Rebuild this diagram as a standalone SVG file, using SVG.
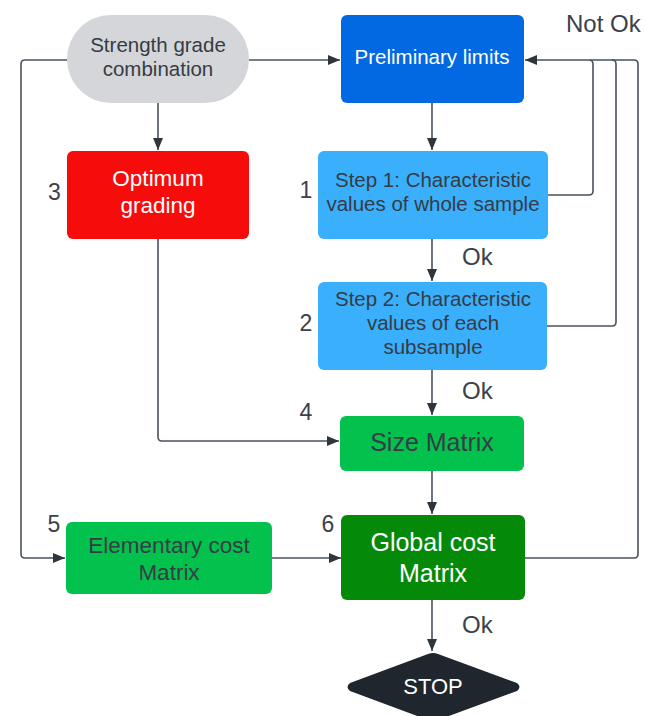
<svg xmlns="http://www.w3.org/2000/svg" width="646" height="716" viewBox="0 0 646 716">
<defs>
<marker id="ah" viewBox="0 0 12 10" refX="12" refY="5" markerWidth="12" markerHeight="10" markerUnits="userSpaceOnUse" orient="auto">
<path d="M0,0 L12,5 L0,10 Z" fill="#2f353d"/>
</marker>
<style>
text{font-family:"Liberation Sans",Arial,sans-serif;text-anchor:middle}
.c{fill:none;stroke:#4a525b;stroke-width:1.6;stroke-linejoin:round}
.a{marker-end:url(#ah)}
.dk{fill:#353c45}
.wt{fill:#ffffff}
.num{fill:#3a414a;font-size:23px}
.lbl{fill:#3a414a;font-size:24px;text-anchor:start}
</style>
</defs>
<rect width="646" height="716" fill="#ffffff"/>
<g id="connectors">
<path class="c a" d="M249,60 H340"/>
<path class="c a" d="M158,103 V150"/>
<path class="c a" d="M432,103 V150"/>
<path class="c a" d="M432,239 V281"/>
<path class="c a" d="M432,370 V415"/>
<path class="c a" d="M432,471 V514"/>
<path class="c a" d="M432,600 V651"/>
<path class="c a" d="M158,239 V437 Q158,441 162,441 H339"/>
<path class="c a" d="M67,60 H25 Q21,60 21,64 V554 Q21,558 25,558 H65"/>
<path class="c a" d="M272,558 H341"/>
<path class="c a" d="M548,195 H589 Q593,195 593,191 V64 Q593,60 589,60 H525"/>
<path class="c" d="M547,326 H612 Q616,326 616,322 V64 Q616,60 612,60 H590"/>
<path class="c" d="M525,558 H634 Q638,558 638,554 V64 Q638,60 634,60 H612"/>
</g>
<g id="strength">
<rect x="67" y="15" width="182" height="88" rx="44" fill="#d4d6d9"/>
<text class="dk" font-size="20.5" x="158" y="52">Strength grade</text>
<text class="dk" font-size="20.5" x="158" y="76">combination</text>
</g>
<g id="preliminary">
<rect x="341" y="15" width="183" height="88" rx="6" fill="#0369e2"/>
<text class="wt" font-size="20.5" x="432" y="64">Preliminary limits</text>
</g>
<g id="optimum">
<rect x="67" y="151" width="182" height="88" rx="6" fill="#f70c0c"/>
<text class="wt" font-size="22.5" x="158" y="186">Optimum</text>
<text class="wt" font-size="22.5" x="158" y="213">grading</text>
<text class="num" x="54.5" y="200">3</text>
</g>
<g id="step1">
<rect x="318" y="151" width="230" height="88" rx="6" fill="#3aaffc"/>
<text class="dk" font-size="20.5" x="433" y="187">Step 1: Characteristic</text>
<text class="dk" font-size="20.5" x="433" y="211">values of whole sample</text>
<text class="num" x="306" y="198">1</text>
</g>
<g id="step2">
<rect x="318" y="282" width="229" height="88" rx="6" fill="#3aaffc"/>
<text class="dk" font-size="20.5" x="433" y="306">Step 2: Characteristic</text>
<text class="dk" font-size="20.5" x="433" y="330">values of each</text>
<text class="dk" font-size="20.5" x="433" y="354">subsample</text>
<text class="num" x="306" y="331">2</text>
</g>
<g id="size">
<rect x="340" y="416" width="184" height="55" rx="6" fill="#02c24d"/>
<text class="dk" font-size="25" x="432" y="451">Size Matrix</text>
<text class="num" x="306" y="420">4</text>
</g>
<g id="elementary">
<rect x="66" y="522" width="206" height="72" rx="6" fill="#02c24d"/>
<text class="dk" font-size="22.5" x="169" y="553">Elementary cost</text>
<text class="dk" font-size="22.5" x="169" y="580">Matrix</text>
<text class="num" x="54" y="532">5</text>
</g>
<g id="global">
<rect x="341" y="515" width="184" height="85" rx="6" fill="#048a08"/>
<text class="wt" font-size="25" x="433" y="551">Global cost</text>
<text class="wt" font-size="25" x="433" y="582">Matrix</text>
<text class="num" x="328" y="532">6</text>
</g>
<g id="stop">
<path d="M428,654 Q433,652 438,654 L517,683 Q522,687 517,691 L438,720 Q433,722 428,720 L350,691 Q345,687 350,683 Z" fill="#1f262d"/>
<text class="wt" font-size="22" x="433" y="694">STOP</text>
</g>
<g id="labels">
<text class="lbl" x="566" y="32">Not Ok</text>
<text class="lbl" x="462" y="265">Ok</text>
<text class="lbl" x="462" y="399">Ok</text>
<text class="lbl" x="462" y="633">Ok</text>
</g>
</svg>
